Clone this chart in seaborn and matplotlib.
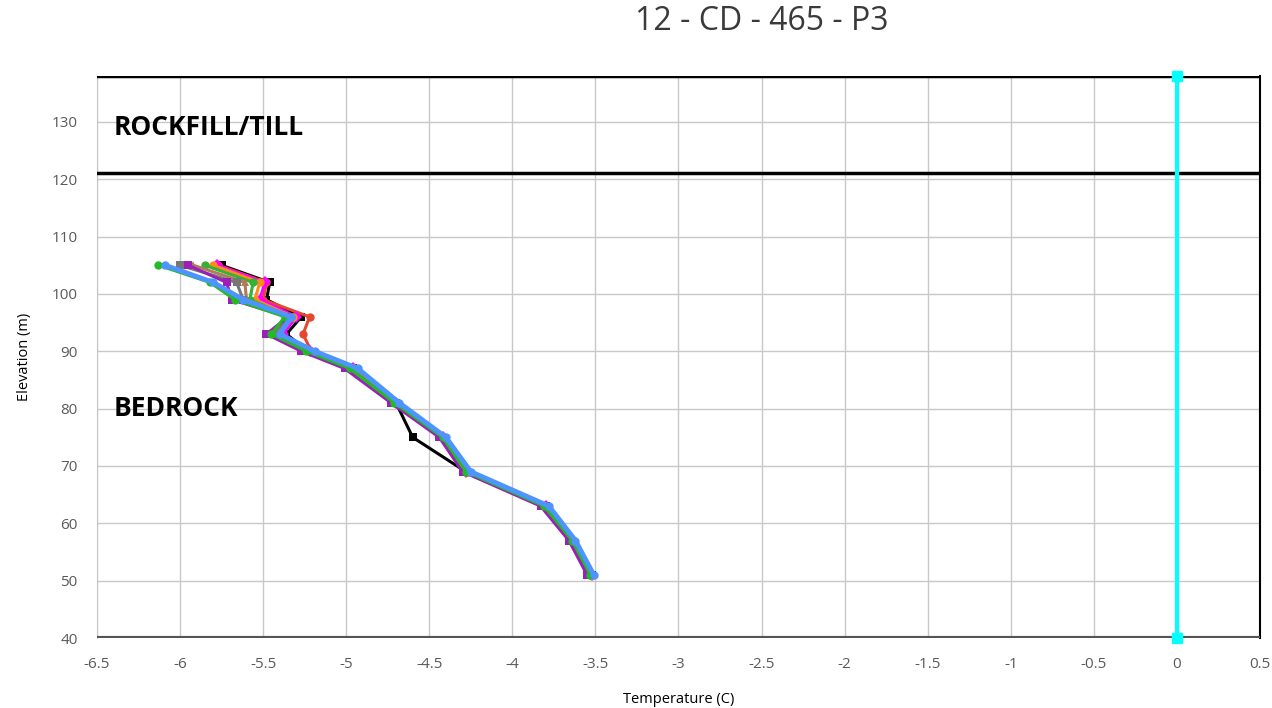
import numpy as np
import pandas as pd
import seaborn as sns
from matplotlib import pyplot as plt

sns.set_style("white")
plt.rcParams['font.family'] = ['Open Sans', 'DejaVu Sans']

elevations = [105, 102, 99, 96, 93, 90, 87, 81, 75, 69, 63, 57, 51]

black = [-5.75, -5.46, -5.48, -5.27, -5.36, -5.23, -4.96, -4.70, -4.60, -4.28, -3.80, -3.64, -3.52]
red = [-5.77, -5.48, -5.50, -5.22, -5.26, -5.21, -4.95, -4.69, -4.42, -4.27, -3.80, -3.64, -3.52]
magenta = [-5.78, -5.49, -5.52, -5.30, -5.38, -5.22, -4.96, -4.70, -4.42, -4.28, -3.80, -3.64, -3.52]
orange = [-5.80, -5.52, -5.55, -5.32, -5.40, -5.22, -4.96, -4.70, -4.42, -4.28, -3.80, -3.64, -3.52]
olive = [-5.85, -5.56, -5.58, -5.33, -5.42, -5.22, -4.97, -4.70, -4.42, -4.28, -3.81, -3.64, -3.53]
brown = [-5.92, -5.61, -5.60, -5.34, -5.43, -5.23, -4.97, -4.71, -4.42, -4.28, -3.81, -3.64, -3.53]
gray = [-6.00, -5.66, -5.62, -5.35, -5.44, -5.23, -4.98, -4.71, -4.43, -4.29, -3.81, -3.65, -3.53]
purple = [-5.95, -5.72, -5.69, -5.35, -5.48, -5.27, -5.01, -4.73, -4.44, -4.30, -3.83, -3.66, -3.55]
green = [-6.13, -5.82, -5.67, -5.37, -5.45, -5.24, -4.98, -4.71, -4.42, -4.28, -3.81, -3.64, -3.53]
blue = [-6.09, -5.80, -5.62, -5.33, -5.40, -5.19, -4.93, -4.68, -4.40, -4.25, -3.78, -3.62, -3.51]

series = {
    "black": (black, "#000000", "s"),
    "red": (red, "#e8472f", "o"),
    "magenta": (magenta, "#ff00ff", "D"),
    "orange": (orange, "#ff8c1a", "o"),
    "olive": (olive, "#33b233", "o"),
    "brown": (brown, "#b07b5a", "^"),
    "gray": (gray, "#777777", "s"),
    "purple": (purple, "#9b1fb8", "s"),
    "green": (green, "#22bb22", "o"),
    "blue": (blue, "#4d94ff", "o"),
}

rows = []
for name, (temps, color, marker) in series.items():
    for t, e in zip(temps, elevations):
        rows.append({"series": name, "temp": t, "elev": e})
df = pd.DataFrame(rows)

fig = plt.figure(figsize=(12.72, 7.08), dpi=100)
ax = fig.add_axes([97 / 1272, 1 - 638 / 708, (1260 - 97) / 1272, (638 - 76) / 708])

for name, (temps, color, marker) in series.items():
    lw = 3.5 if name == "blue" else 2.2
    sns.lineplot(data=df[df["series"] == name], x="temp", y="elev", sort=False,
                 estimator=None, color=color, marker=marker, markersize=6,
                 markeredgewidth=0, linewidth=lw, ax=ax)

# layer boundaries
ax.axhline(121, color="black", lw=2.5, zorder=5)
ax.axhline(138, color="black", lw=2.5, zorder=5)
ax.axhline(40, color="#555555", lw=3, zorder=5)
ax.plot([0, 0], [40, 138], color="#00ffff", lw=3, marker="s", markersize=7, zorder=6, clip_on=False)

ax.text(-6.4, 129, "ROCKFILL/TILL", fontsize=19, fontweight="bold", va="center", color="black")
ax.text(-6.4, 80, "BEDROCK", fontsize=19, fontweight="bold", va="center", color="black")

ax.set_xlim(-6.5, 0.5)
ax.set_ylim(40, 138)
ax.set_xticks(np.arange(-6.5, 0.51, 0.5))
ax.set_xticklabels(["%g" % v for v in np.arange(-6.5, 0.51, 0.5)])
ax.set_yticks(np.arange(40, 131, 10))
ax.grid(True, color="#c8c8c8", lw=1)
ax.tick_params(axis="x", length=0, pad=14, labelsize=11, labelcolor="#5a5a5a")
ax.tick_params(axis="y", length=11, pad=3, color="#c0d0e0", labelsize=11, labelcolor="#5a5a5a")

for side in ["top", "bottom"]:
    ax.spines[side].set_visible(False)
ax.spines["left"].set_color("#c8c8c8")
ax.spines["right"].set_color("black")
ax.spines["right"].set_linewidth(1.5)

ax.set_xlabel("Temperature (C)", fontsize=10.5, labelpad=14, color="black")
ax.set_ylabel("Elevation (m)", fontsize=10.5, labelpad=14, color="black")
fig.text(762 / 1272, 1 - 22 / 708, "12 - CD - 465 - P3", fontsize=23, color="#3a3a3a",
         ha="center", va="center")

fig.savefig("out.png", dpi=100)
